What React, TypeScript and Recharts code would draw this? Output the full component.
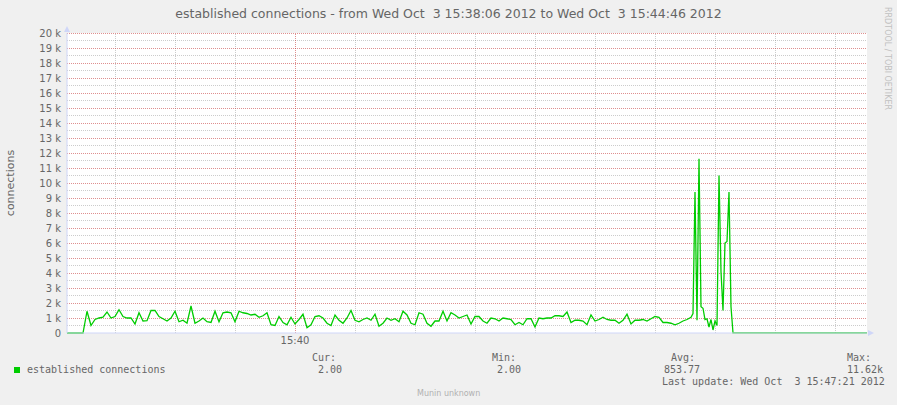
import { Line, LineChart, ReferenceArea, ReferenceDot, ReferenceLine, XAxis, YAxis } from "recharts";

// Munin "established connections" graph, 15:38:06 -> 15:44:46 (400 s window).

const START_SECONDS = 15 * 3600 + 38 * 60 + 6;
const WINDOW = 400;

// 0 before collection starts, sampled every 2 s from t = 0
const leadIn = [0, 0, 0, 0, 0];
// steady traffic, every 2 s from t = 10
const steady = [
  1450, 500, 900, 1000, 1050, 1400, 1000, 1100, 1550, 1100, 1000, 1000, 600, 1350, 800, 820,
  1500, 1500, 1100, 950, 800, 1000, 1450, 750, 850, 650, 1800, 650, 800, 1000, 750, 700, 1450,
  750, 1350, 1400, 1350, 750, 1450, 1350, 1300, 1200, 1250, 1050, 1150, 1350, 550, 500, 1100,
  700, 550, 1050, 600, 900, 1250, 350, 550, 1100, 1150, 1000, 650, 500, 1200, 850, 650, 1000,
  1500, 850, 750, 900, 1000, 850, 1250, 450,
  650, 1000, 850, 950, 750, 1450, 1200, 650, 550, 1350, 1250, 650, 450, 800, 800, 1450, 800,
  1350, 1200, 1000, 1100, 1200, 600, 1100, 1100, 800, 650, 1000, 950, 800, 1000, 950, 900, 550,
  700, 550, 950, 950, 400, 1000,
  950, 1000, 1000, 1150, 1150, 1100, 1400, 700, 850, 850, 800, 550, 1200, 800, 900, 1050, 900,
  850, 850, 650, 850, 1250, 600, 850, 850, 900, 800, 950, 1100, 1050, 700, 700, 650, 550, 650,
  800, 900, 1050,
];
// burst, every 1 s from t = 313
const burst = [
  1300, 9400, 850, 11620, 1750, 1650, 900, 950, 400, 900, 200, 800, 500, 10500, 4100, 1500,
  6000, 6100, 9400, 1750, 2,
];
const lastValue = 2;

const yTicks = [
  0, 1000, 2000, 3000, 4000, 5000, 6000, 7000, 8000, 9000, 10000, 11000, 12000, 13000, 14000,
  15000, 16000, 17000, 18000, 19000, 20000,
];
const yMinor = [
  500, 1500, 2500, 3500, 4500, 5500, 6500, 7500, 8500, 9500, 10500, 11500, 12500, 13500, 14500,
  15500, 16500, 17500, 18500, 19500,
];
const xMajor = [114]; // 15:40:00
const xMinor = [24, 54, 84, 144, 174, 204, 234, 264, 294, 324, 354, 384];

const data = [
  ...leadIn.map((v, i) => ({ t: i * 2, v })),
  ...steady.map((v, i) => ({ t: 10 + i * 2, v })),
  ...burst.map((v, i) => ({ t: 313 + i, v })),
  { t: WINDOW, v: lastValue },
];

const GREEN = "#00cc00";
const FONT = "#666666";
const AXIS = "#cfd6f8";
const SANS = "'DejaVu Sans', sans-serif";
const MONO = "'DejaVu Sans Mono', monospace";

function clock(t: number) {
  const s = START_SECONDS + t;
  const h = Math.floor(s / 3600);
  const m = Math.floor((s % 3600) / 60);
  return `${h}:${String(m).padStart(2, "0")}`;
}

const arrowUp = (p: any) => (
  <path d={`M${p.cx - 3},${p.cy - 1} L${p.cx + 3},${p.cy - 1} L${p.cx},${p.cy - 7} Z`} fill={AXIS} />
);
const arrowRight = (p: any) => (
  <path d={`M${p.cx + 1},${p.cy - 3} L${p.cx + 1},${p.cy + 3} L${p.cx + 7},${p.cy} Z`} fill={AXIS} />
);

const mono = (left: number, top: number, text: string) => (
  <div
    style={{
      position: "absolute",
      left,
      top,
      font: `10px ${MONO}`,
      lineHeight: "12px",
      color: FONT,
      whiteSpace: "pre",
    }}
  >
    {text}
  </div>
);

export default function App() {
  return (
    <div style={{ position: "absolute", left: 0, top: 0, width: 897, height: 405, background: "#f0f0f0" }}>
      <LineChart width={897} height={405} data={data} margin={{ top: 33, right: 30, left: 7, bottom: 52 }}>
        <XAxis
          dataKey="t"
          type="number"
          domain={[0, WINDOW]}
          ticks={xMajor}
          tickFormatter={clock}
          height={20}
          tickSize={0}
          tickMargin={4}
          axisLine={{ stroke: AXIS }}
          tick={{ fontSize: 10, fontFamily: SANS, fill: FONT }}
        />
        <YAxis
          type="number"
          domain={[0, 20000]}
          ticks={yTicks}
          tickFormatter={(v: number) => (v === 0 ? "0" : `${v / 1000} k`)}
          width={60}
          tickSize={0}
          tickMargin={6}
          interval={0}
          axisLine={{ stroke: AXIS }}
          tick={{ fontSize: 10, fontFamily: SANS, fill: FONT }}
        />
        <ReferenceArea x1={0} x2={WINDOW} y1={0} y2={20000} fill="#ffffff" fillOpacity={1} stroke="none" />
        {yMinor.map((y) => (
          <ReferenceLine key={`ym${y}`} y={y} stroke="#808080" strokeOpacity={0.4} strokeDasharray="1 1" shapeRendering="crispEdges" />
        ))}
        {xMinor.map((x) => (
          <ReferenceLine key={`xm${x}`} x={x} stroke="#808080" strokeOpacity={0.4} strokeDasharray="1 1" shapeRendering="crispEdges" />
        ))}
        {yTicks.slice(1).map((y) => (
          <ReferenceLine key={`yM${y}`} y={y} stroke="#c02020" strokeOpacity={0.5} strokeDasharray="1 1" shapeRendering="crispEdges" />
        ))}
        {xMajor.map((x) => (
          <ReferenceLine key={`xM${x}`} x={x} stroke="#c02020" strokeOpacity={0.5} strokeDasharray="1 1" shapeRendering="crispEdges" />
        ))}
        <ReferenceDot x={0} y={20000} r={0} shape={arrowUp} ifOverflow="visible" />
        <ReferenceDot x={WINDOW} y={0} r={0} shape={arrowRight} ifOverflow="visible" />
        <Line type="linear" dataKey="v" stroke={GREEN} strokeWidth={1.3} dot={false} isAnimationActive={false} />
      </LineChart>

      <div
        style={{
          position: "absolute",
          left: 0,
          top: 6,
          width: 897,
          textAlign: "center",
          font: `12.5px ${SANS}`,
          lineHeight: "16px",
          color: FONT,
          whiteSpace: "pre",
        }}
      >
        {"established connections - from Wed Oct  3 15:38:06 2012 to Wed Oct  3 15:44:46 2012"}
      </div>
      <div
        style={{
          position: "absolute",
          left: 10,
          top: 183,
          transform: "translate(-50%, -50%) rotate(-90deg)",
          font: `11px ${SANS}`,
          color: FONT,
          whiteSpace: "nowrap",
        }}
      >
        connections
      </div>
      <div
        style={{
          position: "absolute",
          left: 883,
          top: 7,
          writingMode: "vertical-rl",
          font: `8px ${SANS}`,
          color: "#c0c0c0",
          whiteSpace: "pre",
        }}
      >
        RRDTOOL / TOBI OETIKER
      </div>

      <div style={{ position: "absolute", left: 14, top: 367, width: 6, height: 6, background: GREEN }} />
      {mono(27, 364, "established connections")}
      {mono(312, 352, "Cur:")}
      {mono(318, 364, "2.00")}
      {mono(492, 352, "Min:")}
      {mono(497, 364, "2.00")}
      {mono(671, 352, "Avg:")}
      {mono(664, 364, "853.77")}
      {mono(847, 352, "Max:")}
      {mono(847, 364, "11.62k")}
      {mono(662, 376, "Last update: Wed Oct  3 15:47:21 2012")}
      <div
        style={{
          position: "absolute",
          left: 417,
          top: 389,
          font: `8px ${SANS}`,
          color: "#b0b0b0",
          whiteSpace: "pre",
        }}
      >
        Munin unknown
      </div>
    </div>
  );
}
